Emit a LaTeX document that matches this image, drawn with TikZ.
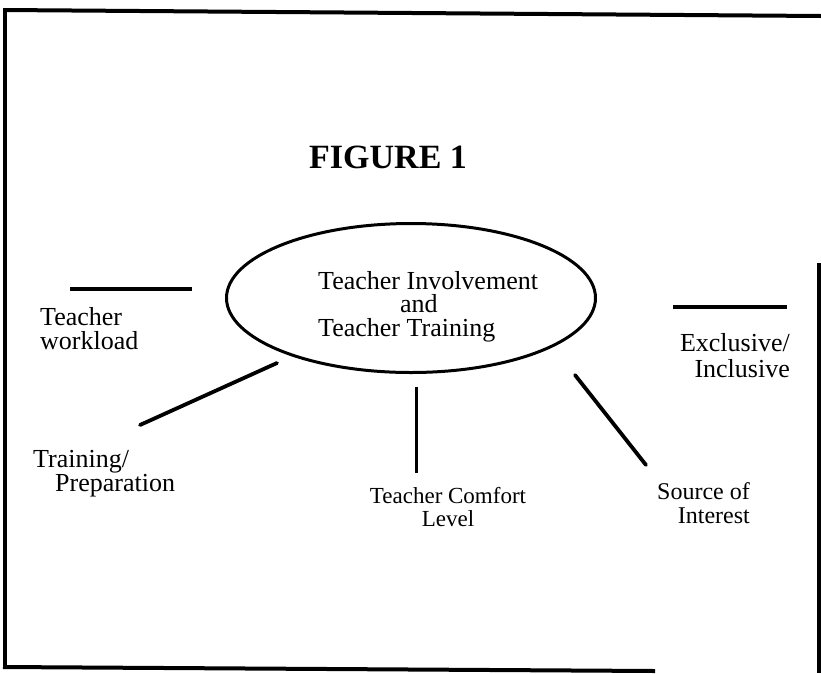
\documentclass[tikz,border=0pt]{standalone}
\usepackage{fontspec}
\setmainfont{Liberation Serif}
\usetikzlibrary{shapes.geometric}

\tikzset{
    lbl/.style={inner sep=0pt, font=\fontsize{26}{24.5}\selectfont},
    smalllbl/.style={inner sep=0pt, font=\fontsize{23}{23}\selectfont},
    spoke/.style={line width=3.8pt, line cap=round},
    frame/.style={line width=4pt}
}

\begin{document}
\begin{tikzpicture}[x=1pt,y=-1pt]
        \useasboundingbox (0,0) rectangle (821,673);
        % Scanned page border (open at top right and bottom right)
        \draw[frame] (4,10) -- (821,16);
        \draw[frame] (5,8) -- (5,669);
        \draw[frame] (3,667) -- (655,671);
        \draw[frame] (819,263) -- (819,673);
        % Title
        \node[inner sep=0pt, anchor=base west, font=\fontsize{34}{34}\selectfont\bfseries] (title) at (309,168) {FIGURE 1};
        % Central ellipse
        \node[draw, ellipse, line width=3pt, inner sep=0pt, minimum width=369, minimum height=149] (hub) at (411,298) {};
        \node[lbl, align=left, anchor=north west, font=\fontsize{26}{23.5}\selectfont] (hubtext) at (318,271) {Teacher Involvement\\\hspace*{82pt}and\\Teacher Training};
        % Spoke end points
        \coordinate (wlA) at (70,289);   \coordinate (wlB) at (192,289);
        \coordinate (trA) at (277,363);  \coordinate (trB) at (140,425);
        \coordinate (tcA) at (416,387);  \coordinate (tcB) at (416,473);
        \coordinate (siA) at (575,375);  \coordinate (siB) at (646,465);
        \coordinate (exA) at (673,307);  \coordinate (exB) at (787,307);
        % Spokes
        \draw[spoke, line width=3.3pt, line cap=butt] (wlA) -- (wlB);
        \draw[spoke] (trA) -- (trB);
        \draw[spoke, line width=3pt, line cap=butt] (tcA) -- (tcB);
        \draw[spoke] (siA) -- (siB);
        \draw[spoke, line width=3.3pt, line cap=butt] (exA) -- (exB);
        % Labels
        \node[lbl, align=left, anchor=north west, font=\fontsize{26}{24}\selectfont] (workload) at (40,307) {Teacher\\workload};
        \node[lbl, align=left, anchor=north west, font=\fontsize{26}{24}\selectfont] (training) at (33,450) {Training/\\\hspace*{22pt}Preparation};
        \node[smalllbl, align=center, anchor=north] (comfort) at (448,487) {Teacher Comfort\\Level};
        \node[lbl, align=right, anchor=north east, font=\fontsize{24}{24}\selectfont] (source) at (750,482) {Source of\\Interest};
        \node[lbl, align=right, anchor=north east, font=\fontsize{26}{26}\selectfont] (exclusive) at (790,333) {Exclusive/\\Inclusive};
\end{tikzpicture}
\end{document}
